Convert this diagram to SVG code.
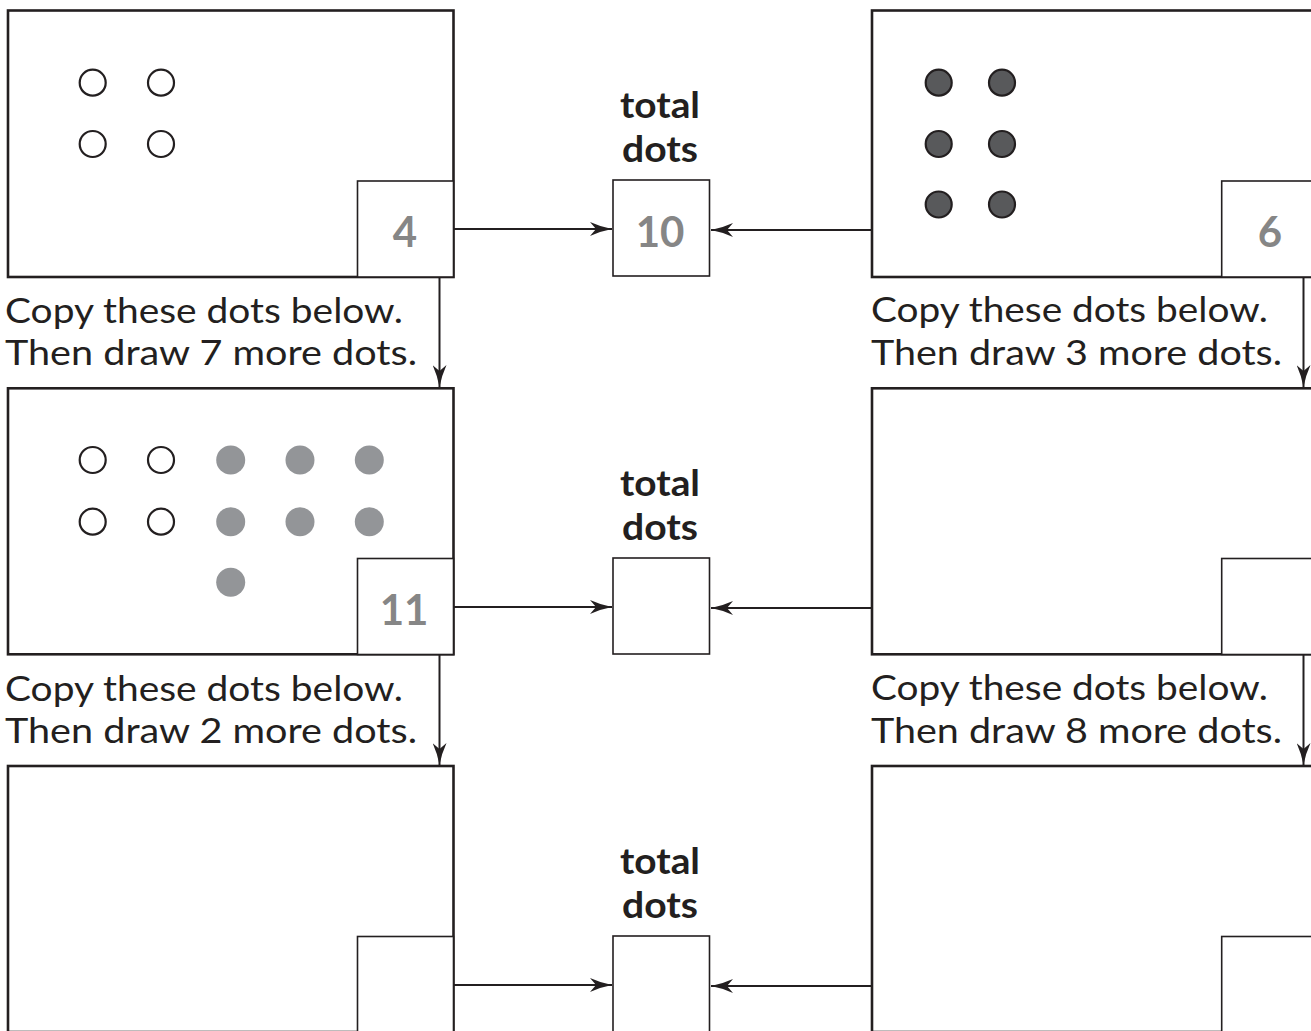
<svg xmlns="http://www.w3.org/2000/svg" width="1311" height="1031" viewBox="0 0 1311 1031">
<style>
.box{fill:#fff;stroke:#231f20;stroke-width:2.6}
.small{fill:#fff;stroke:#231f20;stroke-width:1.6}
.conn{fill:none;stroke:#231f20;stroke-width:2}
.open{fill:#fff;stroke:#231f20;stroke-width:2.2}
.dark{fill:#58595b;stroke:#231f20;stroke-width:2.2}
.gray{fill:#939598}
.instr{font-family:Lato,"Open Sans","Liberation Sans",sans-serif;font-size:35px;fill:#231f20}
.label{font-family:Lato,"Open Sans","Liberation Sans",sans-serif;font-size:36px;font-weight:bold;fill:#231f20;text-anchor:middle}
.num{font-family:Lato,"Open Sans","Liberation Sans",sans-serif;font-size:42px;font-weight:bold;fill:#868686;text-anchor:middle}
</style>
<defs>
<marker id="ah" viewBox="0 0 22 14" refX="22" refY="7" markerWidth="22" markerHeight="14" orient="auto" markerUnits="userSpaceOnUse">
<path d="M0,0 Q11,5 22,7 Q11,9 0,14 L6,7 Z" fill="#231f20"/>
</marker>
</defs>
<rect width="1311" height="1031" fill="#fff"/>

<g id="connectors">
<line class="conn" x1="454" y1="229" x2="612" y2="229" marker-end="url(#ah)"/>
<line class="conn" x1="872" y1="230" x2="711" y2="230" marker-end="url(#ah)"/>
<line class="conn" x1="439.5" y1="277" x2="439.5" y2="387" marker-end="url(#ah)"/>
<line class="conn" x1="1303.5" y1="277" x2="1303.5" y2="387" marker-end="url(#ah)"/>
<line class="conn" x1="454" y1="607" x2="612" y2="607" marker-end="url(#ah)"/>
<line class="conn" x1="872" y1="608" x2="711" y2="608" marker-end="url(#ah)"/>
<line class="conn" x1="439.5" y1="655" x2="439.5" y2="765" marker-end="url(#ah)"/>
<line class="conn" x1="1303.5" y1="655" x2="1303.5" y2="765" marker-end="url(#ah)"/>
<line class="conn" x1="454" y1="985" x2="612" y2="985" marker-end="url(#ah)"/>
<line class="conn" x1="872" y1="986" x2="711" y2="986" marker-end="url(#ah)"/>
</g>

<g id="box-r1-left">
<rect class="box" x="8" y="10.5" width="445.5" height="266.5"/>
<rect class="small" x="357.5" y="181" width="96" height="96"/>
<text class="num" x="405" y="246.5">4</text>
<circle class="open" cx="92.7" cy="82.7" r="13"/>
<circle class="open" cx="161" cy="82.7" r="13"/>
<circle class="open" cx="92.7" cy="144" r="13"/>
<circle class="open" cx="161" cy="144" r="13"/>
</g>
<g id="text-r1-left">
<text class="instr" x="5" y="322.5" textLength="398" lengthAdjust="spacingAndGlyphs">Copy these dots below.</text>
<text class="instr" x="5" y="365" textLength="412" lengthAdjust="spacingAndGlyphs">Then draw 7 more dots.</text>
</g>

<g id="total-r1">
<text class="label" x="660" y="117.5" textLength="80" lengthAdjust="spacingAndGlyphs">total</text>
<text class="label" x="660" y="161.5" textLength="76" lengthAdjust="spacingAndGlyphs">dots</text>
<rect class="small" x="613" y="180" width="96.5" height="96"/>
<text class="num" x="660" y="246.5">10</text>
</g>

<g id="box-r1-right">
<rect class="box" x="872" y="10.5" width="460" height="266.5"/>
<rect class="small" x="1221.7" y="181" width="110" height="96"/>
<text class="num" x="1270" y="246.5">6</text>
<circle class="dark" cx="938.7" cy="82.7" r="13"/>
<circle class="dark" cx="1002" cy="82.7" r="13"/>
<circle class="dark" cx="938.7" cy="144" r="13"/>
<circle class="dark" cx="1002" cy="144" r="13"/>
<circle class="dark" cx="938.7" cy="204.5" r="13"/>
<circle class="dark" cx="1002" cy="204.5" r="13"/>
</g>
<g id="text-r1-right">
<text class="instr" x="871" y="322" textLength="397" lengthAdjust="spacingAndGlyphs">Copy these dots below.</text>
<text class="instr" x="871" y="364.5" textLength="411" lengthAdjust="spacingAndGlyphs">Then draw 3 more dots.</text>
</g>

<g id="box-r2-left">
<rect class="box" x="8" y="388.3" width="445.5" height="266"/>
<rect class="small" x="357.5" y="558.5" width="96" height="96"/>
<text class="num" x="404" y="625">11</text>
<circle class="open" cx="92.7" cy="460" r="13"/>
<circle class="open" cx="161" cy="460" r="13"/>
<circle class="open" cx="92.7" cy="521.7" r="13"/>
<circle class="open" cx="161" cy="521.7" r="13"/>
<circle class="gray" cx="230.7" cy="460" r="14.5"/>
<circle class="gray" cx="300" cy="460" r="14.5"/>
<circle class="gray" cx="369.3" cy="460" r="14.5"/>
<circle class="gray" cx="230.7" cy="521.7" r="14.5"/>
<circle class="gray" cx="300" cy="521.7" r="14.5"/>
<circle class="gray" cx="369.3" cy="521.7" r="14.5"/>
<circle class="gray" cx="230.7" cy="582.3" r="14.5"/>
</g>
<g id="text-r2-left">
<text class="instr" x="5" y="700.5" textLength="398" lengthAdjust="spacingAndGlyphs">Copy these dots below.</text>
<text class="instr" x="5" y="743" textLength="412" lengthAdjust="spacingAndGlyphs">Then draw 2 more dots.</text>
</g>

<g id="total-r2">
<text class="label" x="660" y="495.5" textLength="80" lengthAdjust="spacingAndGlyphs">total</text>
<text class="label" x="660" y="539.5" textLength="76" lengthAdjust="spacingAndGlyphs">dots</text>
<rect class="small" x="613" y="558" width="96.5" height="96"/>
</g>

<g id="box-r2-right">
<rect class="box" x="872" y="388.3" width="460" height="266"/>
<rect class="small" x="1221.7" y="558.5" width="110" height="96"/>
</g>
<g id="text-r2-right">
<text class="instr" x="871" y="700" textLength="397" lengthAdjust="spacingAndGlyphs">Copy these dots below.</text>
<text class="instr" x="871" y="742.5" textLength="411" lengthAdjust="spacingAndGlyphs">Then draw 8 more dots.</text>
</g>

<g id="box-r3-left">
<rect class="box" x="8" y="766" width="445.5" height="266"/>
<rect class="small" x="357.5" y="936.5" width="96" height="96"/>
</g>

<g id="total-r3">
<text class="label" x="660" y="873.5" textLength="80" lengthAdjust="spacingAndGlyphs">total</text>
<text class="label" x="660" y="917.5" textLength="76" lengthAdjust="spacingAndGlyphs">dots</text>
<rect class="small" x="613" y="936" width="96.5" height="96"/>
</g>

<g id="box-r3-right">
<rect class="box" x="872" y="766" width="460" height="266"/>
<rect class="small" x="1221.7" y="936.5" width="110" height="96"/>
</g>
</svg>
